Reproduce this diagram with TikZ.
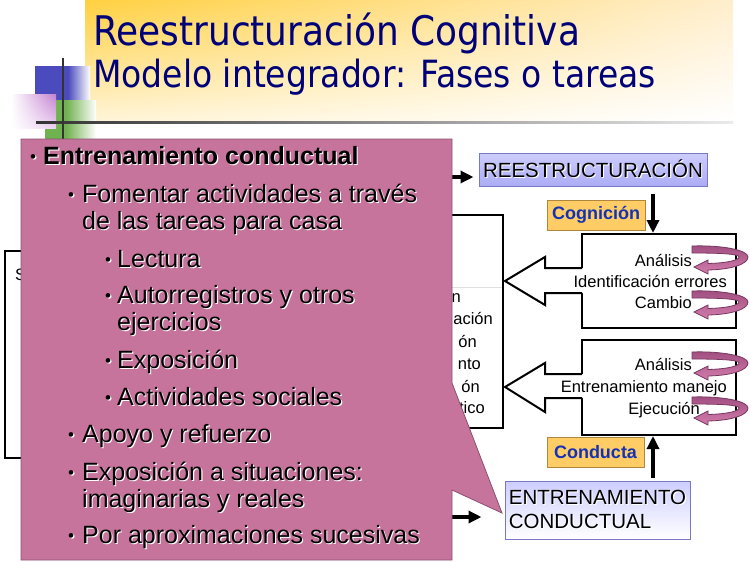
\documentclass[tikz,border=0pt]{standalone}
\usepackage{fontspec}
\setmainfont{Liberation Sans}
\newfontfamily\titlefont[FakeStretch=0.88]{DejaVu Sans}
\usetikzlibrary{arrows.meta,shadings}
\definecolor{titleblue}{RGB}{0,0,120}
\definecolor{tUL}{RGB}{255,208,64}
\definecolor{tUR}{RGB}{255,238,205}
\definecolor{tLL}{RGB}{255,244,214}
\definecolor{calloutpink}{RGB}{199,116,156}
\definecolor{calloutedge}{RGB}{140,80,112}
\definecolor{labelfill}{RGB}{255,204,102}
\definecolor{labeledge}{RGB}{175,135,60}
\definecolor{labelblue}{RGB}{20,50,180}
\definecolor{lavtop}{RGB}{205,205,255}
\definecolor{lavbot}{RGB}{172,172,245}
\definecolor{lavmid}{RGB}{145,145,240}
\definecolor{lavedge}{RGB}{120,120,200}
\definecolor{curltop}{RGB}{160,78,128}
\definecolor{curlbot}{RGB}{210,125,172}
\definecolor{curledge}{RGB}{120,55,95}
\definecolor{sqblue}{RGB}{75,75,190}
\definecolor{sqgreen}{RGB}{112,178,80}
\definecolor{sqpurple}{RGB}{196,128,208}
\definecolor{sqpurplelight}{RGB}{235,210,240}
\newcommand\shd[1]{\rlap{\kern1.1pt\raisebox{-1.1pt}{\color{white}#1}}#1}
\newcommand\bul{\raisebox{1.5pt}{\fontsize{17}{17}\selectfont •}}
\newcommand\curl[2]{\shadedraw[curlstyle, shift={(#1,#2)}]
  (0,0) .. controls (30,-1) and (56,4) .. (56,11)
  .. controls (56,18) and (40,23.5) .. (16,24)
  -- (16,28) -- (2,21) -- (16,14) -- (16,17.5)
  .. controls (36,17) and (47,14) .. (47,11)
  .. controls (47,8) and (30,7) .. (0,7) -- cycle;}
\tikzset{
  ct/.style={anchor=base west, inner sep=0pt, font=\fontsize{25}{30}\selectfont},
  bt/.style={anchor=base east, inner sep=0pt, font=\fontsize{16.5}{20}\selectfont},
  boxstyle/.style={draw, line width=2pt, fill=white, inner sep=0pt},
  labelbox/.style={draw=labeledge, line width=1pt, fill=labelfill, text=labelblue,
    font=\bfseries\fontsize{18}{20}\selectfont, inner sep=0pt},
  blkarrow/.style={line width=3.8pt, -{Triangle[length=13pt,width=12pt]}},
  blockarrow/.style={draw, line width=2pt, line join=miter},
  curlstyle/.style={top color=curltop, bottom color=curlbot, draw=curledge, line width=0.8pt},
}
\begin{document}
\begin{tikzpicture}[x=1pt,y=-1pt]
\useasboundingbox (0,0) rectangle (750,562);
\fill[white] (0,0) rectangle (750,562);

% title backdrop
\shade[upper left=tUL, upper right=tUR, lower left=tLL, lower right=white] (85,0) rectangle (733,120);
% decorative squares
\fill[sqblue] (35,66) rectangle (68,100);
\shade[left color=sqblue, right color=white] (68,66) rectangle (90,100);
\fill[sqgreen] (45,100) rectangle (66,139);
\shade[left color=sqgreen, right color=white] (66,100) rectangle (96,139);
\shade[upper left=white, upper right=sqpurple, lower left=white, lower right=sqpurplelight] (11,94) rectangle (56,128);
% title lines
\shade[left color=black!80, middle color=black!40, right color=black!8] (36,121.5) rectangle (733,123.5);
\draw[line width=1.8pt, black!80] (63,58) -- (63,139);

\node[anchor=base west, inner sep=0pt, text=titleblue, font=\titlefont\fontsize{40.8}{44}\selectfont] (title1) at (93,45) {Reestructuración Cognitiva};
\node[anchor=base west, inner sep=0pt, text=titleblue, font=\titlefont\fontsize{37.5}{40}\selectfont] (title2) at (93,87) {Modelo integrador: Fases o tareas};

% hidden left and middle boxes
\node[boxstyle, minimum width=55pt, minimum height=207pt] (leftbox) at (32.5,354.5) {};
\node[anchor=base west, inner sep=0pt, font=\fontsize{16.5}{20}\selectfont] (lefttxt) at (15,280) {S};
\node[boxstyle, minimum width=63pt, minimum height=213pt] (midbox) at (471.5,321.5) {};
\draw[gray!25] (440,287) -- (502,287);
\node[bt] (m1) at (461,302) {n};
\node[bt] (m2) at (493,324) {ación};
\node[bt] (m3) at (477,347) {ón};
\node[bt] (m4) at (481,369) {nto};
\node[bt] (m5) at (480,392) {ón};
\node[bt] (m6) at (485,413) {tico};

% right boxes
\node[boxstyle, minimum width=154pt, minimum height=94pt] (cogbox) at (659,281) {};
\node[boxstyle, minimum width=154pt, minimum height=95pt] (condbox) at (659,387.5) {};

% block arrows
\fill[white] (584,268) -- (545,268) -- (545,257) -- (505,281) -- (545,305) -- (545,293) -- (584,293) -- cycle;
\path[blockarrow] (582,268) -- (545,268) -- (545,257) -- (505,281) -- (545,305) -- (545,293) -- (582,293);
\fill[white] (584,374) -- (545,374) -- (545,363) -- (505,387) -- (545,412) -- (545,398) -- (584,398) -- cycle;
\path[blockarrow] (582,374) -- (545,374) -- (545,363) -- (505,387) -- (545,412) -- (545,398) -- (582,398);

% curled arrows
\curl{692}{246}
\curl{692}{291}
\curl{692}{352}
\curl{692}{397}

% box texts
\node[bt] (c1a) at (692,266) {Análisis};
\node[bt] (c1b) at (727,287) {Identificación errores};
\node[bt] (c1c) at (692,308) {Cambio};
\node[bt] (c2a) at (692,370) {Análisis};
\node[bt] (c2b) at (727,392) {Entrenamiento manejo};
\node[bt] (c2c) at (700,414) {Ejecución};

% top and bottom label boxes
\node[draw=lavedge, line width=1pt, top color=lavtop, bottom color=lavbot, inner sep=0pt,
      minimum width=228pt, minimum height=33pt, font=\fontsize{20.5}{24}\selectfont] (reest) at (593,169.5) {\shd{REESTRUCTURACIÓN}};
\node[labelbox, minimum width=98pt, minimum height=30pt] (cog) at (596,215) {Cognición};
\node[labelbox, minimum width=97pt, minimum height=30pt] (cond) at (595.5,452) {Conducta};
\node[draw=lavedge, line width=1pt, top color=lavtop, middle color=lavmid, bottom color=white, inner sep=0pt,
      minimum width=185pt, minimum height=58pt, align=left, font=\fontsize{20.5}{24}\selectfont] (entr) at (597.5,510)
      {\shd{ENTRENAMIENTO}\\\shd{CONDUCTUAL}};

% connectors
\coordinate (arrx) at (653,0);
\coordinate (inA) at (440,177);
\coordinate (inB) at (440,517);
\draw[blkarrow, shorten >=5pt] (inA) -- (inA -| reest.west);
\draw[blkarrow, shorten <=7pt] (reest.south -| arrx) -- (cogbox.north -| arrx);
\draw[blkarrow, shorten <=3pt] (entr.north -| arrx) -- (condbox.south -| arrx);
\draw[blkarrow, shorten >=23pt] (inB) -- (inB -| entr.west);

% callout
\filldraw[fill=calloutpink, draw=calloutedge, line width=0.8pt]
  (21,139) -- (452,139) -- (452,383) -- (502,513) -- (452,490) -- (452,560) -- (21,560) -- cycle;
\node[ct] (t1) at (30,164) {\shd{\makebox[13pt][l]{\bul}\textbf{Entrenamiento conductual}}};
\node[ct] (t2) at (68,202) {\shd{\makebox[14pt][l]{\bul}Fomentar actividades a través}};
\node[ct] (t3) at (82,229) {\shd{de las tareas para casa}};
\node[ct] (t4) at (105,267) {\shd{\makebox[12pt][l]{\bul}Lectura}};
\node[ct] (t5) at (105,303) {\shd{\makebox[12pt][l]{\bul}Autorregistros y otros}};
\node[ct] (t6) at (117,330) {\shd{ejercicios}};
\node[ct] (t7) at (105,368) {\shd{\makebox[12pt][l]{\bul}Exposición}};
\node[ct] (t8) at (105,405) {\shd{\makebox[12pt][l]{\bul}Actividades sociales}};
\node[ct] (t9) at (68,442) {\shd{\makebox[14pt][l]{\bul}Apoyo y refuerzo}};
\node[ct] (t10) at (68,480) {\shd{\makebox[14pt][l]{\bul}Exposición a situaciones:}};
\node[ct] (t11) at (82,507) {\shd{imaginarias y reales}};
\node[ct] (t12) at (68,543) {\shd{\makebox[14pt][l]{\bul}Por aproximaciones sucesivas}};
\end{tikzpicture}
\end{document}
